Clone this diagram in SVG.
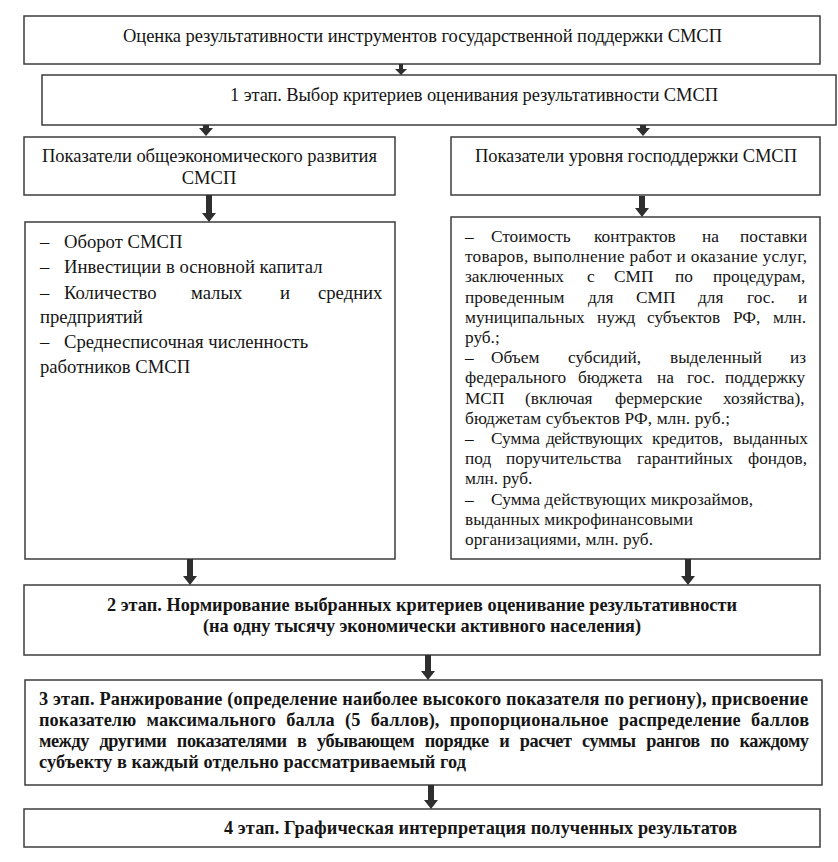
<svg xmlns="http://www.w3.org/2000/svg" width="838" height="862" viewBox="0 0 838 862">
<style>
.box{fill:#fff;stroke:#3c3c3c;stroke-width:1.5}
.t{font-family:"Liberation Serif","Times New Roman",serif;fill:#151515}
.r{font-size:18.5px}
.c{font-size:18.67px}
.s{font-size:17.3px}
.b{font-size:18.3px;font-weight:bold}
.arr{fill:#2e2e2e}
</style>
<rect width="838" height="862" fill="#fff"/>
<g id="n1">
<rect class="box" x="24" y="16" width="796" height="48"/>
<text class="t r" x="123" y="42" textLength="599">Оценка результативности инструментов государственной поддержки СМСП</text>
</g>
<g id="n2">
<rect class="box" x="42" y="75" width="794" height="50"/>
<text class="t r" x="230" y="101" textLength="488">1 этап. Выбор критериев оценивания результативности СМСП</text>
</g>
<g id="n3">
<rect class="box" x="24" y="137" width="371" height="58"/>
<text class="t r" x="42" y="162" textLength="335">Показатели общеэкономического развития</text>
<text class="t r" x="209" y="184" text-anchor="middle">СМСП</text>
</g>
<g id="n4">
<rect class="box" x="451" y="137" width="369" height="58"/>
<text class="t r" x="475" y="162" textLength="322">Показатели уровня господдержки СМСП</text>
</g>
<g id="n5">
<rect class="box" x="25" y="222" width="370" height="337"/>
<text class="t c" y="248"><tspan x="40">–</tspan><tspan x="64">Оборот СМСП</tspan></text>
<text class="t c" y="273"><tspan x="40">–</tspan><tspan x="64">Инвестиции в основной капитал</tspan></text>
<text class="t c" y="299"><tspan x="40">–</tspan><tspan x="64">Количество</tspan><tspan x="191">малых</tspan><tspan x="280">и</tspan><tspan x="318">средних</tspan></text>
<text class="t c" x="40" y="323">предприятий</text>
<text class="t c" y="348"><tspan x="40">–</tspan><tspan x="64">Среднесписочная численность</tspan></text>
<text class="t c" x="40" y="373">работников СМСП</text>
</g>
<g id="n6">
<rect class="box" x="451" y="217" width="369" height="342"/>
<text class="t s" y="242"><tspan x="465">–</tspan><tspan x="491">Стоимость</tspan><tspan x="594">контрактов</tspan><tspan x="702">на</tspan><tspan x="740">поставки</tspan></text>
<text class="t s" x="465" y="262.2" textLength="342">товаров, выполнение работ и оказание услуг,</text>
<text class="t s" y="282.4"><tspan x="465">заключенных</tspan><tspan x="587">с</tspan><tspan x="614">СМП</tspan><tspan x="675">по</tspan><tspan x="713">процедурам,</tspan></text>
<text class="t s" y="302.6"><tspan x="465">проведенным</tspan><tspan x="588">для</tspan><tspan x="636">СМП</tspan><tspan x="698">для</tspan><tspan x="747">гос.</tspan><tspan x="798">и</tspan></text>
<text class="t s" y="322.8"><tspan x="465">муниципальных</tspan><tspan x="597">нужд</tspan><tspan x="647">субъектов</tspan><tspan x="733">РФ,</tspan><tspan x="773">млн.</tspan></text>
<text class="t s" x="465" y="343">руб.;</text>
<text class="t s" y="363.2"><tspan x="465">–</tspan><tspan x="491">Объем</tspan><tspan x="568">субсидий,</tspan><tspan x="670">выделенный</tspan><tspan x="790">из</tspan></text>
<text class="t s" y="383.4"><tspan x="465">федерального</tspan><tspan x="578">бюджета</tspan><tspan x="657">на</tspan><tspan x="687">гос.</tspan><tspan x="725">поддержку</tspan></text>
<text class="t s" y="403.6"><tspan x="465">МСП</tspan><tspan x="525">(включая</tspan><tspan x="615">фермерские</tspan><tspan x="723">хозяйства),</tspan></text>
<text class="t s" x="465" y="423.8" textLength="265">бюджетам субъектов РФ, млн. руб.;</text>
<text class="t s" y="444"><tspan x="465">–</tspan><tspan x="491">Сумма</tspan><tspan x="546" textLength="97">действующих</tspan><tspan x="652">кредитов,</tspan><tspan x="733">выданных</tspan></text>
<text class="t s" y="464.2"><tspan x="465">под</tspan><tspan x="506">поручительства</tspan><tspan x="637">гарантийных</tspan><tspan x="748">фондов,</tspan></text>
<text class="t s" x="465" y="484.4">млн. руб.</text>
<text class="t s" y="504.6"><tspan x="465">–</tspan><tspan x="491" textLength="262">Сумма действующих микрозаймов,</tspan></text>
<text class="t s" x="465" y="524.8" textLength="228">выданных микрофинансовыми</text>
<text class="t s" x="465" y="545" textLength="188">организациями, млн. руб.</text>
</g>
<g id="n7">
<rect class="box" x="24" y="585" width="796" height="70"/>
<text class="t b" x="107" y="611" textLength="630">2 этап. Нормирование выбранных критериев оценивание результативности</text>
<text class="t b" x="203" y="632" textLength="438">(на одну тысячу экономически активного населения)</text>
</g>
<g id="n8">
<rect class="box" x="25" y="680" width="797" height="105"/>
<text class="t b" x="39" y="705" textLength="769">3 этап. Ранжирование (определение наиболее высокого показателя по региону), присвоение</text>
<text class="t b" x="39" y="726" textLength="770" style="word-spacing:5.6px">показателю максимального балла (5 баллов), пропорциональное распределение баллов</text>
<text class="t b" x="39" y="747" textLength="770" style="word-spacing:6.5px">между другими показателями в убывающем порядке и расчет суммы рангов по каждому</text>
<text class="t b" x="39" y="768" textLength="427">субъекту в каждый отдельно рассматриваемый год</text>
</g>
<g id="n9">
<rect class="box" x="24" y="809" width="796" height="38"/>
<text class="t b" x="224" y="834" textLength="513">4 этап. Графическая интерпретация полученных результатов</text>
</g>
<g id="connectors" class="arr">
<path d="M399 64H403V69H407L401 75L395 69H399Z"/>
<path d="M203 125H209V128H213L206 136L199 128H203Z"/>
<path d="M640 125H646V128H650L643 136L636 128H640Z"/>
<path d="M206 195H212V213H216L209 222L202 213H206Z"/>
<path d="M639 196H645V208H649L642 217L635 208H639Z"/>
<path d="M187 559H193V576H197L190 585L183 576H187Z"/>
<path d="M685 559H691V576H695L688 585L681 576H685Z"/>
<path d="M425 655H431V671H435L428 680L421 671H425Z"/>
<path d="M428 785H434V800H438L431 809L424 800H428Z"/>
</g>
</svg>
